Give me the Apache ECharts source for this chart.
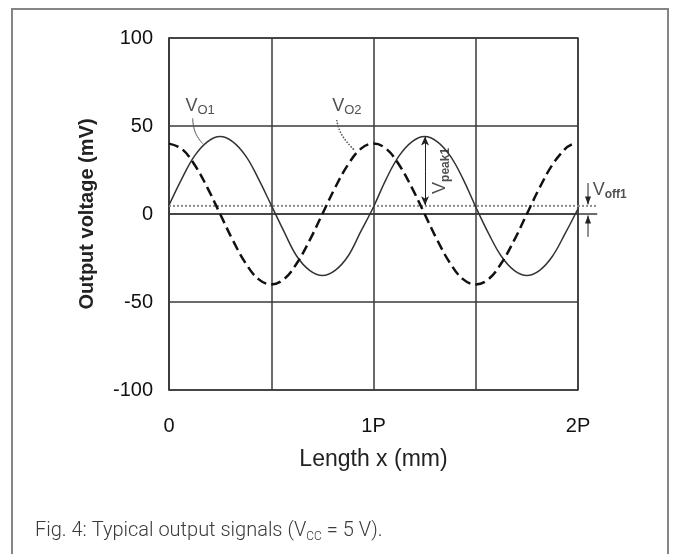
<!DOCTYPE html>
<html>
<head>
<meta charset="utf-8">
<script src="https://cdn.jsdelivr.net/npm/echarts@6/dist/echarts.min.js"></script>
<style>
html,body{margin:0;padding:0;background:#fff;}
#chart{width:675px;height:554px;}
</style>
</head>
<body>
<div id="chart"></div>
<script>
// Positions along length x, in periods P
const xs = [0,0.0625,0.125,0.1875,0.25,0.3125,0.375,0.4375,0.5,0.5625,0.625,0.6875,0.75,0.8125,0.875,0.9375,1,1.0625,1.125,1.1875,1.25,1.3125,1.375,1.4375,1.5,1.5625,1.625,1.6875,1.75,1.8125,1.875,1.9375,2];
const xs2 = [0,0.0625,0.125,0.1875,0.25,0.3125,0.375,0.4375,0.5,0.5625,0.625,0.6875,0.75,0.8125,0.875,0.9375,1,1.0625,1.125,1.1875,1.25,1.3125,1.375,1.4375,1.5,1.5625,1.625,1.6875,1.75,1.8125,1.875,1.9375,1.97];
// Output voltage V_O1 (mV), solid
const vo1 = [5,20,33,41,44,41,33,20,5,-10,-24,-32,-35,-32,-24,-10,4,20,33,41,44,41,33,20,4,-11,-24,-32,-35,-32,-24,-11,3];
// Output voltage V_O2 (mV), dashed
const vo2 = [40,37,28,15,0,-15,-28,-37,-40,-37,-28,-15,0,15,28,37,40,37,28,15,0,-15,-28,-37,-40,-37,-28,-15,0,15,28,37,39.5];
// Offset level V_off1 (mV) and peak V_peak1 (mV)
const vOffset = 4.6;
const vPeak = 44;
// Axis ticks
const xTickValues = [0,1,2];
const xTickLabels = ['0','1P','2P'];
const yTicks = [-100,-50,0,50,100];

const pts1 = xs.map((x,i)=>[x,vo1[i]]);
const pts2 = xs2.map((x,i)=>[x,vo2[i]]);

const FONT = '"Liberation Sans", Arial, sans-serif';
const GRID = '#3a3a3a';

const chart = echarts.init(document.getElementById('chart'), null, {renderer:'canvas'});
const subRich = {
  v:{fontSize:18, lineHeight:22, color:'#222', fontFamily:FONT},
  s:{fontSize:13, lineHeight:14, verticalAlign:'bottom', color:'#222', fontFamily:FONT}
};
const subRichB = {
  v:{fontSize:18, lineHeight:22, color:'#222', fontFamily:FONT},
  s:{fontSize:12, lineHeight:13, verticalAlign:'bottom', color:'#222', fontWeight:'bold', fontFamily:FONT}
};

function labelPoint(name, pos, text, rich, rotate){
  return {
    type:'scatter', name:name, clip:false, silent:true,
    symbolSize:1, itemStyle:{color:'rgba(0,0,0,0)'},
    data:[pos],
    label:{show:true, position:'inside', formatter:text, rich:rich, rotate:rotate||0}
  };
}

const option = {
  animation:false,
  grid:{left:169, top:38, width:409, height:352, show:true, borderColor:GRID, borderWidth:1.5},
  xAxis:{
    type:'value', min:0, max:2, interval:0.5,
    axisLine:{show:true, lineStyle:{color:GRID, width:1.5}},
    axisTick:{show:false},
    splitLine:{show:true, lineStyle:{color:GRID, width:1.5}},
    axisLabel:{
      margin:26, fontSize:20, color:'#111', fontFamily:FONT,
      formatter:function(v){ const i = xTickValues.indexOf(v); return i>=0 ? xTickLabels[i] : ''; }
    },
    name:'Length x (mm)', nameLocation:'middle', nameGap:58,
    nameTextStyle:{fontSize:23, color:'#222', fontFamily:FONT}
  },
  yAxis:{
    type:'value', min:yTicks[0], max:yTicks[yTicks.length-1], interval:50,
    axisLine:{show:true, lineStyle:{color:GRID, width:1.5}},
    axisTick:{show:false},
    splitLine:{show:true, lineStyle:{color:GRID, width:1.5}},
    axisLabel:{margin:16, fontSize:20, color:'#111', fontFamily:FONT},
    name:'Output voltage (mV)', nameLocation:'middle', nameGap:72, nameRotate:90,
    nameTextStyle:{fontSize:20, fontWeight:'bold', color:'#222', fontFamily:FONT}
  },
  series:[
    {
      type:'line', name:'offset', data:[[0,vOffset],[2,vOffset]], silent:true,
      showSymbol:false, symbol:'none',
      lineStyle:{color:'#8c8c8c', width:2, type:'dotted'},
      markLine:{
        silent:true, symbol:['none','arrow'], symbolSize:[6,9],
        lineStyle:{color:'#222', width:1, type:'solid'}, label:{show:false},
        data:[
          [{coord:[1.252,24]},{coord:[1.252,vPeak]}],
          [{coord:[1.252,24]},{coord:[1.252,vOffset+0.4]}]
        ]
      }
    },
    {
      type:'line', name:'V_O1', data:pts1, smooth:0.4, showSymbol:false, symbol:'none',
      lineStyle:{color:'#333', width:1.5}
    },
    {
      type:'line', name:'V_O2', data:pts2, smooth:0.4, showSymbol:false, symbol:'none',
      lineStyle:{color:'#111', width:2.5, type:[10,5]}
    },
    {
      type:'line', name:'leader1', data:[[0.116,54.4],[0.128,46.5],[0.165,40]], smooth:true, silent:true,
      showSymbol:false, symbol:'none', lineStyle:{color:'#555', width:1}
    },
    {
      type:'line', name:'leader2', data:[[0.820,53.4],[0.845,45],[0.905,36.5]], smooth:true, silent:true,
      showSymbol:false, symbol:'none', lineStyle:{color:'#555', width:1.5, type:'dotted'}
    },
    labelPoint('lbl1',[0.152,61.4],'{v|V}{s|O1}',subRich),
    labelPoint('lbl2',[0.870,61.4],'{v|V}{s|O2}',subRich),
    labelPoint('lblPeak',[1.327,24.5],'{v|V}{s|peak1}',subRichB,90),
    labelPoint('lblOff',[2.155,13.6],'{v|V}{s|off1}',subRichB)
  ]
};
chart.setOption(option);

// Annotations outside the plot box, placed through the chart's own scales
const P = (x,y)=>chart.convertToPixel({gridIndex:0},[x,y]);
const xEnd = 2.094, xArrow = 2.049;
const z0 = P(2,0), z1 = P(xEnd,0);
const o0 = P(2,vOffset), o1 = P(xEnd,vOffset);
const aTop0 = P(xArrow,17.6), aTop1 = P(xArrow,vOffset);
const aBot0 = P(xArrow,-13), aBot1 = P(xArrow,0);
function arrow(from, to){
  const dir = to[1] > from[1] ? 1 : -1;
  const tipY = to[1] - dir*1.5;
  return [
    {type:'line', silent:true, shape:{x1:from[0], y1:from[1], x2:to[0], y2:tipY}, style:{stroke:'#222', lineWidth:1}},
    {type:'polygon', silent:true, shape:{points:[[to[0]-3, tipY-dir*8],[to[0], tipY],[to[0]+3, tipY-dir*8]]}, style:{fill:'#222'}}
  ];
}
chart.setOption({
  graphic:[
    {type:'rect', shape:{x:12, y:9, width:656, height:600}, style:{fill:'none', stroke:'#858585', lineWidth:2}, silent:true},
    {type:'line', silent:true, shape:{x1:z0[0], y1:z0[1], x2:z1[0], y2:z1[1]}, style:{stroke:GRID, lineWidth:1.5}},
    {type:'line', silent:true, shape:{x1:o0[0], y1:o0[1], x2:o1[0], y2:o1[1]}, style:{stroke:'#8c8c8c', lineWidth:2, lineDash:[2,2]}},
    ...arrow(aTop0, aTop1),
    ...arrow(aBot0, aBot1),
    {type:'text', left:35, top:521, silent:true,
     style:{
       text:'{a|Fig. 4: Typical output signals (V}{s|CC}{a| = 5 V).}',
       rich:{
         a:{fontSize:20, fontWeight:300, fontFamily:'Roboto, "Liberation Sans", sans-serif', fill:'#3a3a3a', lineHeight:24},
         s:{fontSize:12, fontWeight:300, fontFamily:'Roboto, "Liberation Sans", sans-serif', fill:'#3a3a3a', lineHeight:13, verticalAlign:'bottom'}
       }
     }}
  ]
});
</script>
</body>
</html>
